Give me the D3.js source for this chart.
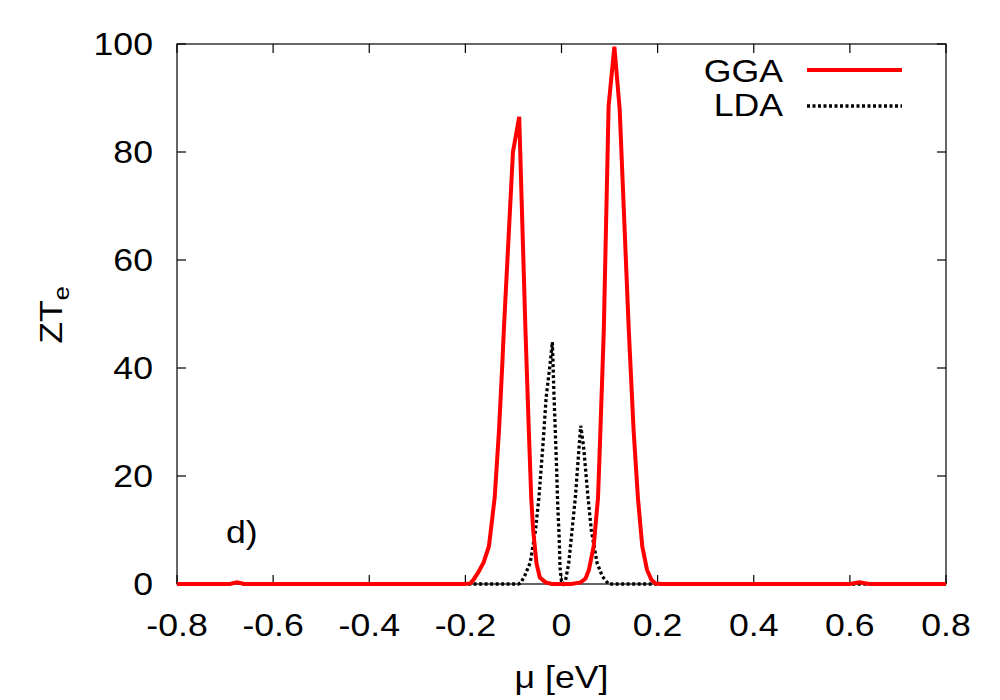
<!DOCTYPE html>
<html>
<head>
<meta charset="utf-8">
<script src="https://cdn.jsdelivr.net/npm/d3@7"></script>
<style>
  body { margin: 0; background: #fff; }
  text { font-family: "Liberation Sans", Arial, Helvetica, sans-serif; fill: #000; }
</style>
</head>
<body>
<svg id="chart" width="1000" height="700"></svg>
<script>
// ---- data ----
const xTicks = [-0.8, -0.6, -0.4, -0.2, 0, 0.2, 0.4, 0.6, 0.8];
const xTickLabels = ["-0.8", "-0.6", "-0.4", "-0.2", "0", "0.2", "0.4", "0.6", "0.8"];
const yTicks = [0, 20, 40, 60, 80, 100];
const yTickLabels = ["0", "20", "40", "60", "80", "100"];

const ggaMu = [-0.8, -0.69, -0.675, -0.66, -0.2, -0.19, -0.183, -0.173, -0.162, -0.151, -0.139, -0.130, -0.123, -0.120, -0.101, -0.088, -0.075, -0.068, -0.063, -0.059, -0.052, -0.045, -0.033, -0.02, 0.02, 0.04, 0.05, 0.057, 0.067, 0.076, 0.081, 0.088, 0.098, 0.110, 0.121, 0.140, 0.150, 0.159, 0.168, 0.178, 0.187, 0.196, 0.21, 0.6, 0.62, 0.64, 0.8];
const ggaZT = [0, 0, 0.3, 0, 0, 0.1, 0.8, 2.2, 4, 7, 16, 28.5, 41, 47, 80, 86.5, 47, 28.5, 16, 10, 3.8, 1.2, 0.3, 0, 0, 0.3, 1, 2.6, 7, 16, 28.5, 47, 88.5, 99.5, 88, 47, 28.5, 16, 7, 2.6, 0.8, 0.1, 0, 0, 0.3, 0, 0];

const ldaMu = [-0.8, -0.69, -0.675, -0.66, -0.09, -0.085, -0.077, -0.065, -0.054, -0.047, -0.038, -0.032, -0.024, -0.019, -0.016, -0.013, -0.010, -0.008, -0.005, -0.003, 0.0, 0.004, 0.008, 0.015, 0.022, 0.029, 0.034, 0.040, 0.046, 0.055, 0.062, 0.074, 0.085, 0.098, 0.8];
const ldaZT = [0, 0, 0.3, 0, 0, 0.2, 1.4, 4, 10, 16, 26.5, 34.5, 40.5, 44.8, 36, 28.5, 21, 15, 9, 3, 0.5, 0, 0.5, 3.8, 10, 16.2, 22.3, 29.3, 25.4, 16.2, 10, 3.9, 1.4, 0, 0];

const seriesNames = ["GGA", "LDA"];

// ---- layout ----
const W = 1000, H = 700;
const m = { left: 177, right: 54, top: 44, bottom: 116 };
const svg = d3.select("#chart");
const x = d3.scaleLinear().domain([-0.8, 0.8]).range([m.left, W - m.right]);
const y = d3.scaleLinear().domain([0, 100]).range([H - m.bottom, m.top]);
const FS = 31, SX = 1.15;

function label(txt, px, py, anchor, parent) {
  const g = (parent || svg).append("g").attr("transform", `translate(${px},${py}) scale(${SX},1)`);
  return g.append("text").attr("text-anchor", anchor).attr("font-size", FS).text(txt);
}

// frame
svg.append("rect").attr("x", m.left).attr("y", m.top)
  .attr("width", W - m.left - m.right).attr("height", H - m.top - m.bottom)
  .attr("fill", "none").attr("stroke", "#000").attr("stroke-width", 1.2);

// ticks (inward, mirrored)
const TL = 9;
const tk = svg.append("g").attr("stroke", "#000").attr("stroke-width", 1.2);
xTicks.forEach(v => {
  tk.append("line").attr("x1", x(v)).attr("x2", x(v)).attr("y1", y(0)).attr("y2", y(0) - TL);
  tk.append("line").attr("x1", x(v)).attr("x2", x(v)).attr("y1", y(100)).attr("y2", y(100) + TL);
});
yTicks.forEach(v => {
  tk.append("line").attr("x1", x(-0.8)).attr("x2", x(-0.8) + TL).attr("y1", y(v)).attr("y2", y(v));
  tk.append("line").attr("x1", x(0.8)).attr("x2", x(0.8) - TL).attr("y1", y(v)).attr("y2", y(v));
});

// tick labels
xTicks.forEach((v, i) => label(xTickLabels[i], x(v), 636, "middle"));
yTicks.forEach((v, i) => label(yTickLabels[i], 153, y(v) + 11, "end"));

// axis titles
label("\u03bc [eV]", x(0), 688, "middle");
const yl = svg.append("g").attr("transform", `translate(62,315) rotate(-90) scale(${SX},1)`);
const ytxt = yl.append("text").attr("text-anchor", "middle").attr("font-size", FS);
ytxt.append("tspan").text("ZT");
ytxt.append("tspan").attr("font-size", 22).attr("dy", 7).text("e");

// panel label
label("d)", 226, 543, "start");

// curves
const line = d3.line().x(d => x(d[0])).y(d => y(d[1]));
const ggaData = ggaMu.map((v, i) => [v, ggaZT[i]]);
const ldaData = ldaMu.map((v, i) => [v, ldaZT[i]]);

svg.append("path").datum(ldaData).attr("d", line)
  .attr("fill", "none").attr("stroke", "#000").attr("stroke-width", 3.3)
  .attr("stroke-dasharray", "3,2.5");
svg.append("path").datum(ggaData).attr("d", line)
  .attr("fill", "none").attr("stroke", "#ff0000").attr("stroke-width", 4)
  .attr("stroke-linejoin", "miter");

// legend
label(seriesNames[0], 783, 81.5, "end");
label(seriesNames[1], 783, 116, "end");
svg.append("line").attr("x1", 807).attr("x2", 902).attr("y1", 70).attr("y2", 70)
  .attr("stroke", "#ff0000").attr("stroke-width", 4);
svg.append("line").attr("x1", 807).attr("x2", 902).attr("y1", 106).attr("y2", 106)
  .attr("stroke", "#000").attr("stroke-width", 3.3).attr("stroke-dasharray", "3,2.5");
</script>
</body>
</html>
